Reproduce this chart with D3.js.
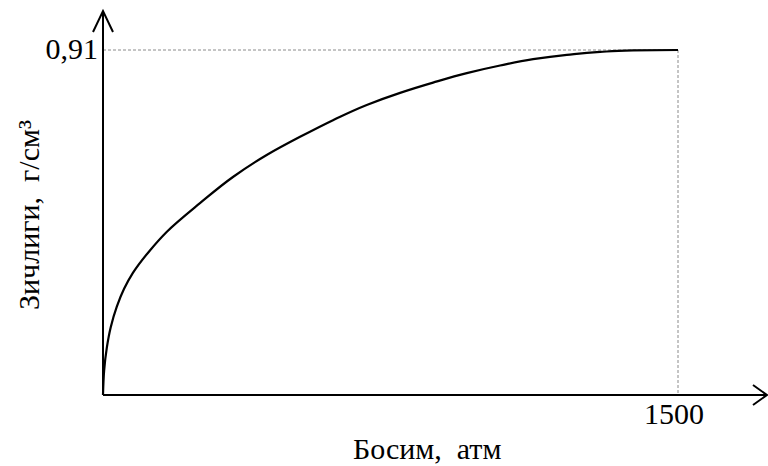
<!DOCTYPE html>
<html lang="uz">
<head>
<meta charset="UTF-8">
<title>Зичлик</title>
<script src="https://d3js.org/d3.v7.min.js"></script>
<style>
  body { margin: 0; background: #fff; }
  text { font-family: "Liberation Serif", "Times New Roman", serif; fill: #000; }
</style>
</head>
<body>
<div id="chart"></div>
<script>
// pressure (atm) and density (g/cm3)
const pressure = [0, 3, 10, 20, 36, 55, 78, 123, 166, 253, 339, 427, 514, 600, 688, 775, 861, 949, 1036, 1122, 1210, 1297, 1383, 1500];
const density  = [0, 0.065, 0.125, 0.178, 0.233, 0.28, 0.322, 0.382, 0.430, 0.506, 0.575, 0.633, 0.681, 0.725, 0.765, 0.797, 0.824, 0.849, 0.869, 0.886, 0.897, 0.905, 0.909, 0.91];
const xTicks = [1500];
const yTicks = [0.91];
const xTickLabels = ["1500"];
const yTickLabels = ["0,91"];

const width = 768, height = 466;

const x = d3.scaleLinear().domain([0, 1500]).range([103, 678]);
const y = d3.scaleLinear().domain([0, 0.91]).range([395, 50]);

const svg = d3.select("#chart").append("svg")
    .attr("width", width)
    .attr("height", height);

// dashed guides to the end value
yTicks.forEach((v, i) => {
    svg.append("line")
        .attr("x1", x(0)).attr("x2", x(xTicks[i]))
        .attr("y1", y(v)).attr("y2", y(v))
        .attr("stroke", "#8a8a8a").attr("stroke-width", 1)
        .attr("stroke-dasharray", "3,2");
    svg.append("line")
        .attr("x1", x(xTicks[i])).attr("x2", x(xTicks[i]))
        .attr("y1", y(v)).attr("y2", y(0))
        .attr("stroke", "#8a8a8a").attr("stroke-width", 1)
        .attr("stroke-dasharray", "3,2");
});

// axes with open arrowheads
const axisEndX = 767, axisEndY = 11;
svg.append("line")
    .attr("x1", x(0)).attr("y1", y(0))
    .attr("x2", axisEndX).attr("y2", y(0))
    .attr("stroke", "#000").attr("stroke-width", 2);
svg.append("line")
    .attr("x1", x(0)).attr("y1", y(0))
    .attr("x2", x(0)).attr("y2", axisEndY)
    .attr("stroke", "#000").attr("stroke-width", 2);

svg.append("path")
    .attr("d", `M${axisEndX - 14},${y(0) - 10}L${axisEndX},${y(0)}L${axisEndX - 14},${y(0) + 10}`)
    .attr("fill", "none").attr("stroke", "#000").attr("stroke-width", 2);
svg.append("path")
    .attr("d", `M${x(0) - 10},${axisEndY + 21}L${x(0)},${axisEndY}L${x(0) + 10},${axisEndY + 21}`)
    .attr("fill", "none").attr("stroke", "#000").attr("stroke-width", 2);

// the curve
const line = d3.line()
    .x((d, i) => x(pressure[i]))
    .y(d => y(d))
    .curve(d3.curveMonotoneY);

svg.append("path")
    .datum(density)
    .attr("d", line)
    .attr("fill", "none")
    .attr("stroke", "#000")
    .attr("stroke-width", 2.2);

// tick labels
svg.selectAll(".ylab")
    .data(yTicks)
    .enter().append("text")
    .attr("x", x(0) - 5)
    .attr("y", d => y(d) + 9)
    .attr("text-anchor", "end")
    .attr("font-size", 30)
    .text((d, i) => yTickLabels[i]);

svg.selectAll(".xlab")
    .data(xTicks)
    .enter().append("text")
    .attr("x", d => x(d) - 4)
    .attr("y", y(0) + 29)
    .attr("text-anchor", "middle")
    .attr("font-size", 30)
    .text((d, i) => xTickLabels[i]);

// axis titles
svg.append("text")
    .attr("x", 353)
    .attr("y", 459)
    .attr("font-size", 30)
    .attr("xml:space", "preserve")
    .text("Босим,  атм");

svg.append("text")
    .attr("transform", "translate(39,310) rotate(-90)")
    .attr("font-size", 30)
    .attr("xml:space", "preserve")
    .text("Зичлиги,  г/см³");
</script>
</body>
</html>
